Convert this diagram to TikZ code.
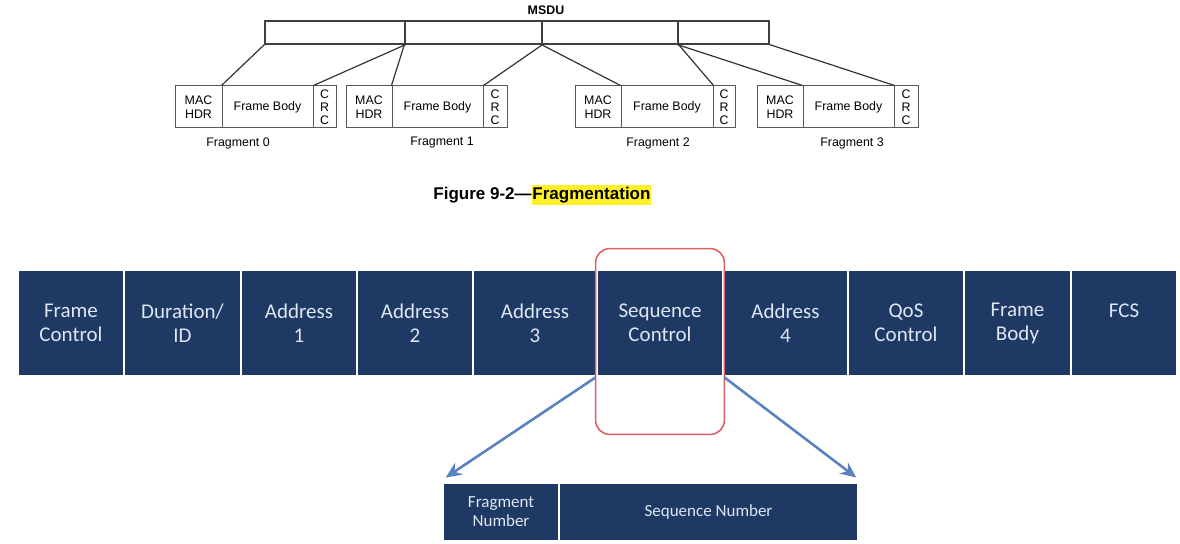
\documentclass[tikz,border=0pt]{standalone}
\usepackage{fontspec}
\setmainfont{Liberation Sans}
\newfontfamily\calibri{Carlito}
\usepackage{xcolor}
\usepackage{tikz}
\usetikzlibrary{arrows.meta,positioning,calc}
\definecolor{macnavy}{RGB}{30,58,100}
\definecolor{celltext}{RGB}{222,230,242}
\definecolor{arrowblue}{RGB}{92,130,192}
\definecolor{boxred}{RGB}{221,96,100}
\definecolor{markyellow}{RGB}{255,241,40}

\begin{document}
\begin{tikzpicture}[x=0.5pt,y=-0.5pt,
  cell/.style={draw=white,line width=1.4pt,fill=macnavy,text=celltext,
    font=\calibri\fontsize{10.5}{12}\selectfont,align=center,inner sep=0pt,minimum height=53pt},
  subcell/.style={cell,font=\calibri\fontsize{8.5}{9.5}\selectfont,minimum height=29pt},
  frag/.style={draw=black!65,line width=.5pt,font=\fontsize{6.2}{7}\selectfont,align=center,
    inner sep=0pt,minimum height=21pt},
  crc/.style={frag,font=\fontsize{6.2}{6.4}\selectfont},
  msdu/.style={draw=black!75,line width=.6pt,inner sep=0pt,minimum height=11.5pt},
  label/.style={font=\fontsize{6.2}{7}\selectfont},
  split/.style={draw=black!80,line width=.6pt},
  redbox/.style={draw=boxred,line width=.8pt,rounded corners=7pt},
  zoomarrow/.style={-{Stealth[length=8pt,width=7pt]},draw=arrowblue,line width=1.3pt}]

\path[use as bounding box] (0,0) rectangle (1180,544);

% MSDU and its four pieces
\node[font=\bfseries\fontsize{6.2}{7}\selectfont] (msdulbl) at (546,10) {MSDU};
\foreach \i/\xa/\xb in {1/265/405,2/405/542,3/542/678,4/678/769}
  \node[msdu,minimum width={(\xb-\xa)*0.5pt}] (m\i) at ({(\xa+\xb)/2},32.5) {};

% fragments
\foreach \i/\xa/\xb/\xc/\xd/\xf in {0/175/222/313/336/238,1/346/392/483/507/442,
    2/575/621/713/735/658,3/757/803/894/918/852}{
  \node[frag,minimum width={(\xb-\xa)*0.5pt}] (mac\i) at ({(\xa+\xb)/2},107) {MAC\\HDR};
  \node[frag,minimum width={(\xc-\xb)*0.5pt}] (fb\i) at ({(\xb+\xc)/2},107) {Frame Body};
  \node[crc,minimum width={(\xd-\xc)*0.5pt}] (crc\i) at ({(\xc+\xd)/2},107) {C\\R\\C};
  \node[label] (fl\i) at (\xf,143) {Fragment \i};
}
\foreach \i/\j in {1/0,2/1,3/2,4/3}{
  \draw[split] (m\i.south west) -- (fb\j.north west);
  \draw[split] (m\i.south east) -- (fb\j.north east);
}

% caption
\node[font=\bfseries\fontsize{8.5}{10}\selectfont,anchor=west,inner xsep=0pt] (cap) at (433,195) {Figure 9-2—};
\node[font=\bfseries\fontsize{8.5}{10}\selectfont,fill=markyellow,inner xsep=0pt,inner ysep=1pt,
  right=0pt of cap] (capmark) {Fragmentation};

% MAC frame fields
\foreach \nm/\xl/\xr/\txt in {fc/18/124/{Frame\\Control},dur/124/241/{Duration/\\ID},
    ad1/241/357/{Address\\1},ad2/357/473/{Address\\2},ad3/473/597/{Address\\3},
    sc/597/723/{Sequence\\Control},ad4/723/848/{Address\\4},qos/848/964/{QoS\\Control},
    fbody/964/1071/{Frame\\Body},fcs/1071/1177/{FCS\\\mbox{}}}
  \node[cell,minimum width={(\xr-\xl)*0.5pt}] (\nm) at ({(\xl+\xr)/2},323) {\txt};

\draw[redbox] ([yshift=10pt]sc.north west) rectangle ([yshift=-28.5pt]sc.south east);

% sequence control subfields
\node[subcell,minimum width=58pt] (fn) at (501,512) {Fragment\\Number};
\node[subcell,minimum width=149.5pt] (sn) at (708.5,512) {Sequence Number};

\draw[zoomarrow] (sc.south west) -- ([shift={(4,-4)}]fn.north west);
\draw[zoomarrow] (sc.south east) -- ([shift={(-3,-4)}]sn.north east);

\end{tikzpicture}
\end{document}
